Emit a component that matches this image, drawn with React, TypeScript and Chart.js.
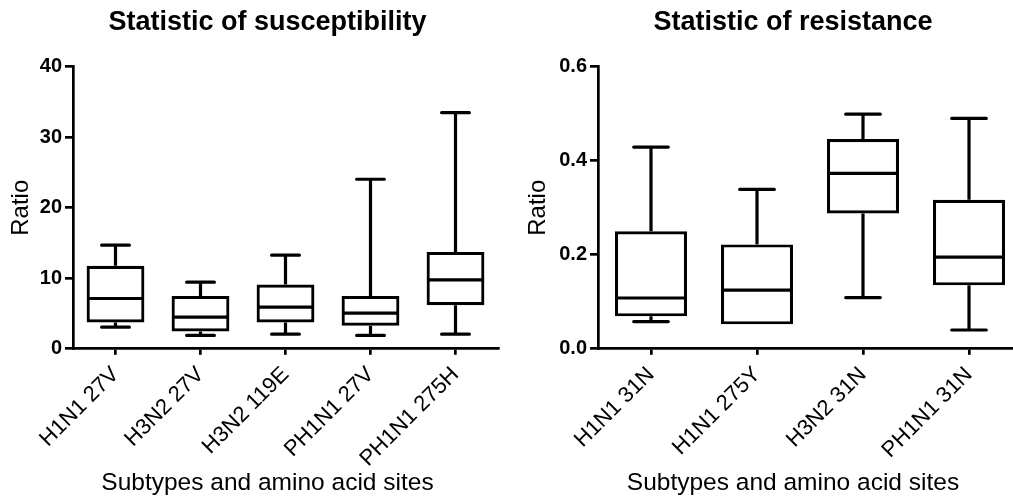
import React, { useEffect, useRef } from "react";
import { Chart, registerables } from "chart.js";

Chart.register(...registerables);

const FONT = "'Liberation Sans', Arial, Helvetica, sans-serif";

// ---- Susceptibility data ----
const suscCategories = ["H1N1 27V", "H3N2 27V", "H3N2 119E", "PH1N1 27V", "PH1N1 275H"];
const suscMin = [3.07, 1.89, 2.08, 1.89, 2.08];
const suscQ1 = [3.73, 2.46, 3.73, 3.26, 6.19];
const suscMedian = [7.13, 4.49, 5.9, 5.05, 9.78];
const suscQ3 = [11.76, 7.5, 9.11, 7.5, 13.74];
const suscMax = [14.7, 9.45, 13.27, 24.04, 33.48];
const suscTicks = [0, 10, 20, 30, 40];

// ---- Resistance data ----
const resCategories = ["H1N1 31N", "H1N1 275Y", "H3N2 31N", "PH1N1 31N"];
const resMin = [0.058, 0.052, 0.109, 0.04];
const resQ1 = [0.069, 0.052, 0.288, 0.135];
const resMedian = [0.108, 0.125, 0.373, 0.195];
const resQ3 = [0.25, 0.222, 0.446, 0.317];
const resMax = [0.429, 0.339, 0.499, 0.49];
const resTicks = [0, 0.2, 0.4, 0.6];

type Stats = { min: number[]; median: number[]; max: number[]; q1: number[]; q3: number[] };

function makeBoxPlugin(stats: Stats) {
  return {
    id: "boxWhisker",
    afterDatasetsDraw(chart: any) {
      const { ctx } = chart;
      const yScale = chart.scales.y;
      const meta = chart.getDatasetMeta(0);
      ctx.save();
      ctx.strokeStyle = "#000";
      ctx.lineWidth = 3.2;
      meta.data.forEach((bar: any, i: number) => {
        const { x, width } = bar.getProps(["x", "width"], true);
        const yMin = yScale.getPixelForValue(stats.min[i]);
        const yMax = yScale.getPixelForValue(stats.max[i]);
        const yQ1 = yScale.getPixelForValue(stats.q1[i]);
        const yQ3 = yScale.getPixelForValue(stats.q3[i]);
        const yMed = yScale.getPixelForValue(stats.median[i]);
        const cap = width * 0.48;
        // whisker stems
        ctx.lineCap = "butt";
        ctx.beginPath();
        ctx.moveTo(x, yQ3);
        ctx.lineTo(x, yMax);
        ctx.moveTo(x, yQ1);
        ctx.lineTo(x, yMin);
        ctx.stroke();
        // caps
        ctx.lineCap = "round";
        ctx.beginPath();
        ctx.moveTo(x - cap / 2, yMax);
        ctx.lineTo(x + cap / 2, yMax);
        if (stats.min[i] < stats.q1[i]) {
          ctx.moveTo(x - cap / 2, yMin);
          ctx.lineTo(x + cap / 2, yMin);
        }
        ctx.stroke();
        // median
        ctx.lineCap = "butt";
        ctx.beginPath();
        ctx.moveTo(x - width / 2 + 1.5, yMed);
        ctx.lineTo(x + width / 2 - 1.5, yMed);
        ctx.stroke();
      });
      ctx.restore();
    },
  };
}

type Cfg = {
  categories: string[];
  stats: Stats;
  ticks: number[];
  max: number;
  decimals: number;
  title: string;
  yWidth: number;
  yTitlePad: number;
  padRight: number;
};

function buildChart(canvas: HTMLCanvasElement, c: Cfg) {
  const floating = c.categories.map((_, i) => [c.stats.q1[i], c.stats.q3[i]]);
  return new Chart(canvas, {
    type: "bar",
    data: {
      labels: c.categories,
      datasets: [
        {
          data: floating as any,
          backgroundColor: "#fff",
          borderColor: "#000",
          borderWidth: 3.2,
          borderSkipped: false,
          inflateAmount: 0,
          barPercentage: 0.68,
          categoryPercentage: 1,
        },
      ],
    },
    options: {
      animation: false,
      responsive: false,
      maintainAspectRatio: false,
      devicePixelRatio: 1,
      layout: { padding: 0 },
      plugins: {
        legend: { display: false },
        tooltip: { enabled: false },
        title: {
          display: true,
          text: c.title,
          color: "#000",
          font: { family: FONT, size: 27, weight: "bold", lineHeight: 1.2 },
          padding: { top: 6.5, bottom: 27.8 },
        },
        subtitle: {
          display: true,
          position: "bottom",
          text: "Subtypes and amino acid sites",
          color: "#000",
          font: { family: FONT, size: 24.5, weight: "normal", lineHeight: 1 },
          padding: { top: 0, bottom: 1.2 },
        },
      },
      scales: {
        x: {
          type: "category",
          offset: true,
          grid: {
            display: true,
            drawOnChartArea: false,
            drawTicks: true,
            tickLength: 6,
            color: "#000",
            tickColor: "#000",
            lineWidth: 2.7,
            tickWidth: 2.7,
            offset: false,
          },
          border: { display: true, color: "#000", width: 2.7 },
          ticks: {
            autoSkip: false,
            maxRotation: 45,
            minRotation: 45,
            color: "#000",
            padding: 7,
            font: { family: FONT, size: 22 },
          },
          afterFit: (s: any) => {
            s.height = 122.5;
          },
        },
        y: {
          min: 0,
          max: c.max,
          afterBuildTicks: (s: any) => {
            s.ticks = c.ticks.map((v) => ({ value: v }));
          },
          grid: {
            display: true,
            drawOnChartArea: false,
            drawTicks: true,
            tickLength: 8,
            color: "#000",
            tickColor: "#000",
            lineWidth: 2.7,
            tickWidth: 2.7,
          },
          border: { display: true, color: "#000", width: 2.7 },
          ticks: {
            color: "#000",
            padding: 3,
            font: { family: FONT, size: 20, weight: "bold" },
            callback: (v: any) => Number(v).toFixed(c.decimals),
          },
          title: {
            display: true,
            text: "Ratio",
            color: "#000",
            font: { family: FONT, size: 24, weight: "normal", lineHeight: 1.2 },
            padding: { top: c.yTitlePad, bottom: 0 },
          },
          afterFit: (s: any) => {
            s.width = c.yWidth;
          },
        },
        // empty spacer on the right so the titles stay centred on the full canvas
        spacer: {
          type: "linear",
          position: "right",
          display: true,
          grid: { display: false, drawTicks: false },
          border: { display: false },
          ticks: { display: false },
          afterFit: (s: any) => {
            s.width = c.padRight;
          },
        },
      },
    } as any,
    plugins: [makeBoxPlugin(c.stats)],
  });
}

export default function App() {
  const leftRef = useRef<HTMLCanvasElement>(null);
  const rightRef = useRef<HTMLCanvasElement>(null);

  useEffect(() => {
    const left = buildChart(leftRef.current!, {
      categories: suscCategories,
      stats: { min: suscMin, q1: suscQ1, median: suscMedian, q3: suscQ3, max: suscMax },
      ticks: suscTicks,
      max: 40,
      decimals: 0,
      title: "Statistic of susceptibility",
      yWidth: 73,
      yTitlePad: 7.1,
      padRight: 37,
    });
    const right = buildChart(rightRef.current!, {
      categories: resCategories,
      stats: { min: resMin, q1: resQ1, median: resMedian, q3: resQ3, max: resMax },
      ticks: resTicks,
      max: 0.6,
      decimals: 1,
      title: "Statistic of resistance",
      yWidth: 78,
      yTitlePad: 4.1,
      padRight: 44,
    });
    return () => {
      left.destroy();
      right.destroy();
    };
  }, []);

  return (
    <div
      style={{
        position: "fixed",
        left: 0,
        top: 0,
        width: 1013,
        height: 497,
        overflow: "hidden",
        background: "#fff",
      }}
    >
      <canvas
        ref={leftRef}
        width={535}
        height={497}
        style={{ position: "absolute", left: 0, top: 0, width: 535, height: 497 }}
      />
      <canvas
        ref={rightRef}
        width={546}
        height={497}
        style={{ position: "absolute", left: 520, top: 0, width: 546, height: 497 }}
      />
    </div>
  );
}
